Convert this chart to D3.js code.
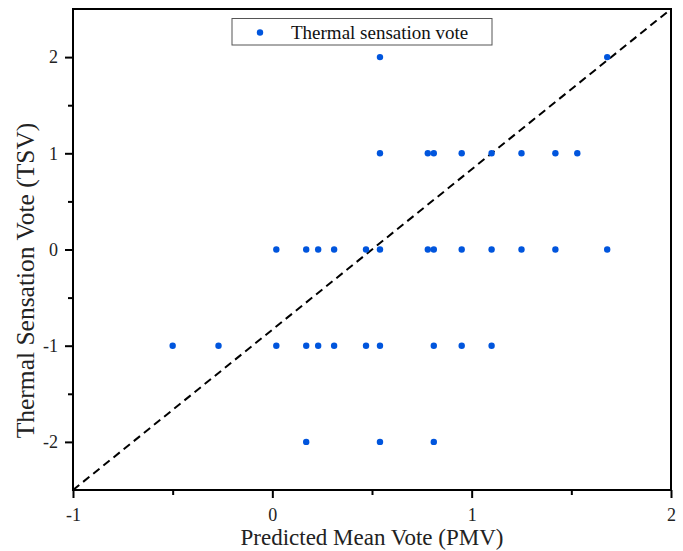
<!DOCTYPE html>
<html><head><meta charset="utf-8">
<script src="https://cdn.jsdelivr.net/npm/d3@7"></script>
<style>body{margin:0;background:#fff;} svg{display:block;}</style>
</head><body>
<script>
const seriesName = "Thermal sensation vote";
const pmv = [0.54, 1.68,
  0.54, 0.78, 0.81, 0.95, 1.10, 1.25, 1.42, 1.53,
  0.02, 0.17, 0.23, 0.31, 0.47, 0.54, 0.78, 0.81, 0.95, 1.10, 1.25, 1.42, 1.68,
  -0.50, -0.27, 0.02, 0.17, 0.23, 0.31, 0.47, 0.54, 0.81, 0.95, 1.10,
  0.17, 0.54, 0.81];
const tsv = [2, 2,
  1, 1, 1, 1, 1, 1, 1, 1,
  0, 0, 0, 0, 0, 0, 0, 0, 0, 0, 0, 0, 0,
  -1, -1, -1, -1, -1, -1, -1, -1, -1, -1, -1,
  -2, -2, -2];
const xTicks = [-1, 0, 1, 2];
const xMinor = [-0.5, 0.5, 1.5];
const yTicks = [-2, -1, 0, 1, 2];
const yMinor = [-1.5, -0.5, 0.5, 1.5];
const refLine = [[-1, -2.5], [2, 2.5]];

const W = 683, H = 551;
const m = {l: 73, r: 12, t: 9, b: 61};
const svg = d3.select("body").append("svg").attr("width", W).attr("height", H);
const x = d3.scaleLinear().domain([-1, 2]).range([m.l, W - m.r]);
const y = d3.scaleLinear().domain([-2.5, 2.5]).range([H - m.b, m.t]);
const font = "'Liberation Serif', 'Times New Roman', serif";

// reference dashed line
svg.append("path")
  .attr("d", d3.line().x(d => x(d[0])).y(d => y(d[1]))(refLine))
  .attr("stroke", "#000").attr("stroke-width", 2).attr("stroke-dasharray", "8,5").attr("fill", "none");

// points
svg.append("g").selectAll("circle").data(pmv.map((v, i) => [v, tsv[i]])).join("circle")
  .attr("cx", d => x(d[0])).attr("cy", d => y(d[1])).attr("r", 3.2).attr("fill", "#0055dd");

// frame
svg.append("rect").attr("x", x(-1)).attr("y", y(2.5)).attr("width", x(2) - x(-1)).attr("height", y(-2.5) - y(2.5))
  .attr("fill", "none").attr("stroke", "#000").attr("stroke-width", 2);

// x axis
const gx = svg.append("g").attr("transform", `translate(0,${y(-2.5)})`)
  .call(d3.axisBottom(x).tickValues(xTicks).tickFormat(d3.format("d")).tickSize(8).tickPadding(10));
svg.append("g").attr("transform", `translate(0,${y(-2.5)})`)
  .call(d3.axisBottom(x).tickValues(xMinor).tickFormat("").tickSize(5));
// y axis
const gy = svg.append("g").attr("transform", `translate(${x(-1)},0)`)
  .call(d3.axisLeft(y).tickValues(yTicks).tickFormat(d3.format("d")).tickSize(8).tickPadding(7));
svg.append("g").attr("transform", `translate(${x(-1)},0)`)
  .call(d3.axisLeft(y).tickValues(yMinor).tickFormat("").tickSize(5));
svg.selectAll(".domain").remove();
svg.selectAll(".tick line").attr("stroke", "#000").attr("stroke-width", 2);
svg.selectAll(".tick text").attr("font-family", font).attr("font-size", 18).attr("fill", "#222");
gy.selectAll(".tick text").text(d => d < 0 ? "-" + Math.abs(d) : d);
gx.selectAll(".tick text").text(d => d < 0 ? "-" + Math.abs(d) : d);

// axis titles
svg.append("text").attr("x", (x(-1) + x(2)) / 2).attr("y", 545).attr("text-anchor", "middle")
  .attr("font-family", font).attr("font-size", 23).attr("fill", "#222").text("Predicted Mean Vote (PMV)");
svg.append("text").attr("transform", `translate(34,${(y(2.5) + y(-2.5)) / 2 + 31}) rotate(-90)`).attr("text-anchor", "middle")
  .attr("font-family", font).attr("font-size", 25.5).attr("fill", "#222").text("Thermal Sensation Vote (TSV)");

// legend
const lg = svg.append("g");
lg.append("rect").attr("x", 232).attr("y", 18.5).attr("width", 260).attr("height", 26.5)
  .attr("fill", "#fff").attr("stroke", "#555").attr("stroke-width", 1);
lg.append("circle").attr("cx", 260).attr("cy", 32.5).attr("r", 3.2).attr("fill", "#0055dd");
lg.append("text").attr("x", 291).attr("y", 39).attr("font-family", font).attr("font-size", 19).attr("fill", "#111").text(seriesName);
</script>
</body></html>
